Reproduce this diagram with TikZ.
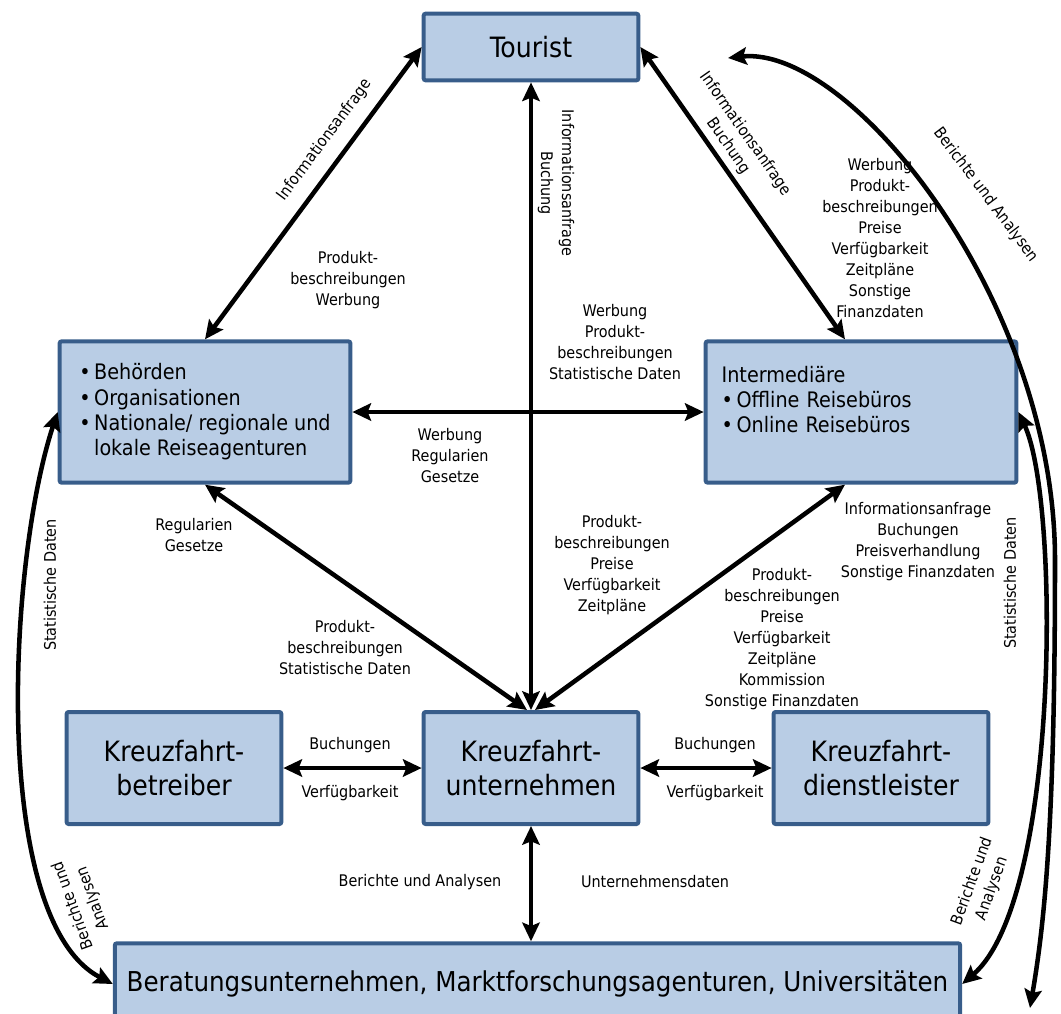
\documentclass[tikz,border=0pt]{standalone}
\usepackage{fontspec}
\setmainfont{DejaVu Sans Condensed}
\usepackage{tikz}
\usetikzlibrary{arrows.meta,positioning}
\definecolor{boxfill}{HTML}{B9CDE5}
\definecolor{boxline}{HTML}{385D8A}

\begin{document}
\begin{tikzpicture}[x=0.75pt, y=-0.75pt, >={Stealth[length=14pt,width=13pt,inset=2.5pt]},
    box/.style={draw=boxline, fill=boxfill, line width=3pt, rounded corners=1.5pt, align=center, inner sep=0pt},
    bigbox/.style={box, minimum width=161pt, minimum height=84pt, font=\fontsize{21}{25.5}\selectfont},
    listbox/.style={box, minimum height=106pt, font=\fontsize{16}{19}\selectfont, align=left},
    lbl/.style={font=\fontsize{12}{15.75}\selectfont, align=center, inner sep=0pt},
    link/.style={<->, line width=3.4pt}]
    \useasboundingbox (0,0) rectangle (1061,1014);
    % boxes
    \node[box, minimum width=161pt, minimum height=50pt, font=\fontsize{21}{25.5}\selectfont] (tourist) at (531,47) {Tourist};
    \node[listbox, minimum width=218pt] (behoerden) at (205,412)
        {•\,Behörden\\ •\,Organisationen\\ •\,Nationale/ regionale und\\ \hphantom{•\,}lokale Reiseagenturen};
    \node[listbox, minimum width=233pt, text width=209pt, inner xsep=12pt] (inter) at (861,412)
        {Intermediäre\\ •\,Offline Reisebüros\\ •\,Online Reisebüros\\ \mbox{}};
    \node[bigbox] (betreiber) at (174,768) {Kreuzfahrt-\\betreiber};
    \node[bigbox] (unternehmen) at (531,768) {Kreuzfahrt-\\unternehmen};
    \node[bigbox] (dienst) at (881,768) {Kreuzfahrt-\\dienstleister};
    \node[box, minimum width=634pt, minimum height=61pt, font=\fontsize{20.5}{25}\selectfont] (beratung) at (537.5,984)
        {Beratungsunternehmen, Marktforschungsagenturen, Universitäten};
    % connectors
    \draw[link] (behoerden.north) -- (tourist.west);
    \draw[link] (tourist.east) -- ([xshift=-12pt]inter.north);
    \draw[link] (tourist.south) -- (unternehmen.north);
    \draw[link] (behoerden.east) -- (inter.west);
    \draw[link] (behoerden.south) -- ([xshift=-3pt]unternehmen.north);
    \draw[link] ([xshift=-12pt]inter.south) -- ([xshift=3pt]unternehmen.north);
    \draw[link] (betreiber.east) -- (unternehmen.west);
    \draw[link] (unternehmen.east) -- (dienst.west);
    \draw[link] (unternehmen.south) -- (unternehmen.south |- beratung.north);
    \draw[link] (beratung.west) .. controls (-10,920) and (8,562) .. (behoerden.west);
    \draw[link] (inter.east) .. controls (1060,500) and (1060,900) .. (beratung.east);
    \coordinate (repA) at (728,58);
    \coordinate (repB) at (1030,1008);
    \draw[link] (repA) .. controls (850,45) and (1055,300) .. (1055,560) .. controls (1055,820) and (1045,920) .. (repB);
    % labels
    \node[lbl, rotate=53.5] (lblTB) at (325,140) {Informationsanfrage};
    \node[lbl] (lblBT) at (348,280) {Produkt-\\beschreibungen\\Werbung};
    \node[lbl, rotate=-90] (lblTU) at (556,183) {Informationsanfrage\\Buchung};
    \node[lbl, rotate=-55] (lblTI) at (737,140) {Informationsanfrage\\Buchung};
    \node[lbl] (lblIT) at (880,238) {Werbung\\Produkt-\\beschreibungen\\Preise\\Verfügbarkeit\\Zeitpläne\\Sonstige\\Finanzdaten};
    \node[lbl, rotate=-53] (lblRep) at (986,195) {Berichte und Analysen};
    \node[lbl] (lblBI) at (615,342) {Werbung\\Produkt-\\beschreibungen\\Statistische Daten};
    \node[lbl] (lblIB) at (450,456) {Werbung\\Regularien\\Gesetze};
    \node[lbl] (lblUB) at (194,535) {Regularien\\Gesetze};
    \node[lbl] (lblBU) at (345,648) {Produkt-\\beschreibungen\\Statistische Daten};
    \node[lbl] (lblUT) at (612,565) {Produkt-\\beschreibungen\\Preise\\Verfügbarkeit\\Zeitpläne};
    \node[lbl] (lblIU) at (918,542) {Informationsanfrage\\Buchungen\\Preisverhandlung\\Sonstige Finanzdaten};
    \node[lbl] (lblUI) at (782,639) {Produkt-\\beschreibungen\\Preise\\Verfügbarkeit\\Zeitpläne\\Kommission\\Sonstige Finanzdaten};
    \node[lbl, rotate=90] (lblStatL) at (50,585) {Statistische Daten};
    \node[lbl, rotate=90] (lblStatR) at (1010,583) {Statistische Daten};
    \node[lbl] (lblBuchL) at (350,745) {Buchungen};
    \node[lbl] (lblVerfL) at (350,793) {Verfügbarkeit};
    \node[lbl] (lblBuchR) at (715,745) {Buchungen};
    \node[lbl] (lblVerfR) at (715,793) {Verfügbarkeit};
    \node[lbl] (lblBerU) at (420,882) {Berichte und Analysen};
    \node[lbl] (lblUD) at (655,882) {Unternehmensdaten};
    \node[lbl, rotate=110] (lblBerL) at (83,902) {Berichte und\\Analysen};
    \node[lbl, rotate=70] (lblBerR) at (982,885) {Berichte und\\Analysen};
\end{tikzpicture}
\end{document}
